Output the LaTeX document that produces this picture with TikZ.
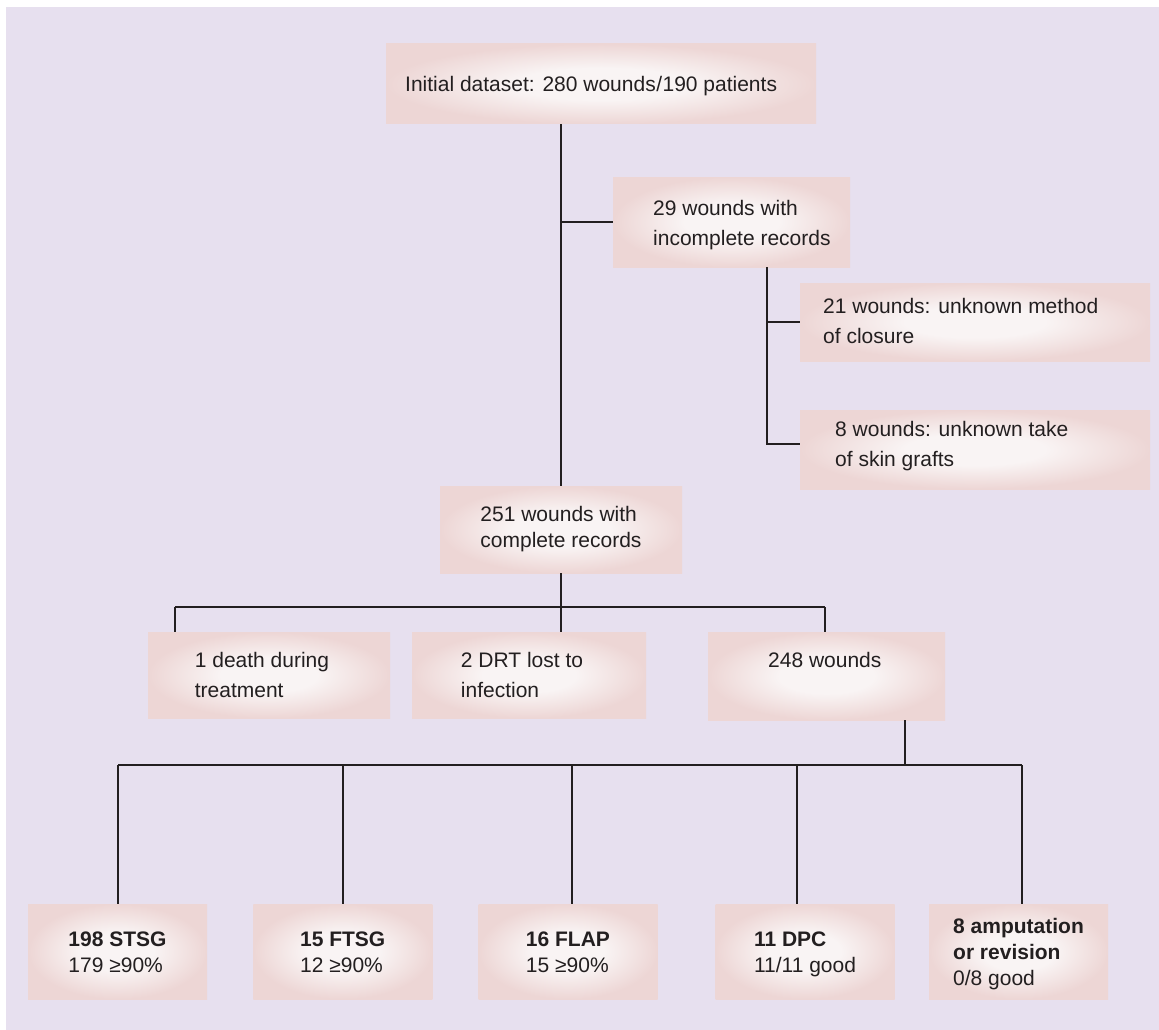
\documentclass[tikz,border=0pt]{standalone}
\usepackage{fontspec}
\setmainfont{Liberation Sans}
\definecolor{bgcol}{HTML}{E7E0EF}
\definecolor{boxin}{HTML}{F9F4F4}
\definecolor{boxout}{HTML}{EDD6D5}
\definecolor{ink}{HTML}{231F20}
\pgfdeclareradialshading{boxshade}{\pgfpoint{0bp}{0bp}}{color(0bp)=(boxin); color(10bp)=(boxin); color(25bp)=(boxout); color(50bp)=(boxout)}
\begin{document}
\begin{tikzpicture}[x=1pt,y=-1pt,
  box/.style={shading=boxshade, rectangle, inner sep=0pt, draw=none},
  txt/.style={inner sep=0pt, anchor=north west, align=left, text=ink, font=\fontsize{21}{30}\selectfont},
  txtm/.style={inner sep=0pt, anchor=north, align=left, text=ink, font=\fontsize{21}{30}\selectfont},
  txtc/.style={inner sep=0pt, anchor=north, align=left, text=ink, font=\fontsize{21}{26}\selectfont},
  conn/.style={draw=ink, line width=2pt}
]
\useasboundingbox (0,0) rectangle (1159,1030);
\fill[bgcol] (6,7) rectangle (1159,1030);

% boxes
\node[box, minimum width=430pt, minimum height=80pt] (top) at (601,84) {};
\node[box, minimum width=237pt, minimum height=90pt] (b29) at (731.5,222) {};
\node[box, minimum width=350pt, minimum height=78pt] (b21) at (975,322) {};
\node[box, minimum width=350pt, minimum height=79pt] (b8) at (975,449.5) {};
\node[box, minimum width=242pt, minimum height=87pt] (b251) at (561,529.5) {};
\node[box, minimum width=242pt, minimum height=86pt] (bdeath) at (269,675) {};
\node[box, minimum width=234pt, minimum height=86pt] (bdrt) at (529,675) {};
\node[box, minimum width=237pt, minimum height=88pt] (b248) at (826.5,676) {};
\node[box, minimum width=179pt, minimum height=95pt] (bstsg) at (117.5,951.5) {};
\node[box, minimum width=179pt, minimum height=95pt] (bftsg) at (342.75,951.5) {};
\node[box, minimum width=179pt, minimum height=95pt] (bflap) at (568,951.5) {};
\node[box, minimum width=179pt, minimum height=95pt] (bdpc) at (805,951.5) {};
\node[box, minimum width=179pt, minimum height=95pt] (bamp) at (1018.5,951.5) {};

% texts
\node[txt] (ttop) at (405,70) {\strut Initial dataset: 280 wounds\kern0.5pt/\kern0.5pt190 patients};
\node[txt] (t29) at (653,194) {\strut 29 wounds with\\\strut incomplete records};
\node[txt] (t21) at (823,292) {\strut 21 wounds: unknown method\\\strut of closure};
\node[txt] (t8) at (835,415) {\strut 8 wounds: unknown take\\\strut of skin grafts};
\node[txtc] (t251) at (561,503.3) {\strut 251 wounds with\\\strut complete records};
\node[txtm] (tdeath) at (262,646) {\strut 1 death during\\\strut treatment};
\node[txtm] (tdrt) at (522,646) {\strut 2 DRT lost to\\\strut infection};
\node[txt] (t248) at (768,646) {\strut 248 wounds};
\node[txtc] (tstsg) at (117.5,927.8) {\strut\textbf{198 STSG}\\\strut 179 ≥90\%};
\node[txtc] (tftsg) at (342.75,927.8) {\strut\textbf{15 FTSG}\\\strut 12 ≥90\%};
\node[txtc] (tflap) at (568,927.8) {\strut\textbf{16 FLAP}\\\strut 15 ≥90\%};
\node[txtc] (tdpc) at (805,927.8) {\strut\textbf{11 DPC}\\\strut 11/11 good};
\node[txtc] (tamp) at (1018.5,914.8) {\strut\textbf{8 amputation}\\\strut\textbf{or revision}\\\strut 0/8 good};

% connectors: upper part
\draw[conn] (top.south -| b251.north) -- (b251.north);
\draw[conn] (b29.west -| b251.north) -- (b29.west);
\coordinate (v8) at (767,444);
\draw[conn] (b29.south -| v8) -- (v8) -- (v8 -| b8.west);
\draw[conn] (b21.west -| v8) -- (b21.west);

% level 3
\coordinate (j3) at (561,607);
\coordinate (h3l) at (175,607);
\coordinate (h3r) at (825,607);
\draw[conn] (b251.south) -- (j3);
\draw[conn] (h3l) -- (h3r);
\draw[conn] (h3l) -- (h3l |- bdeath.north);
\draw[conn] (j3) -- (j3 |- bdrt.north);
\draw[conn] (h3r) -- (h3r |- b248.north);

% level 4
\coordinate (k4) at (905,765);
\coordinate (d1) at (118,765);
\coordinate (d2) at (343,765);
\coordinate (d3) at (572,765);
\coordinate (d4) at (797,765);
\coordinate (d5) at (1022,765);
\draw[conn] (k4 |- b248.south) -- (k4);
\draw[conn] (d1) -- (d5);
\draw[conn] (d1) -- (d1 |- bstsg.north);
\draw[conn] (d2) -- (d2 |- bftsg.north);
\draw[conn] (d3) -- (d3 |- bflap.north);
\draw[conn] (d4) -- (d4 |- bdpc.north);
\draw[conn] (d5) -- (d5 |- bamp.north);
\end{tikzpicture}
\end{document}
